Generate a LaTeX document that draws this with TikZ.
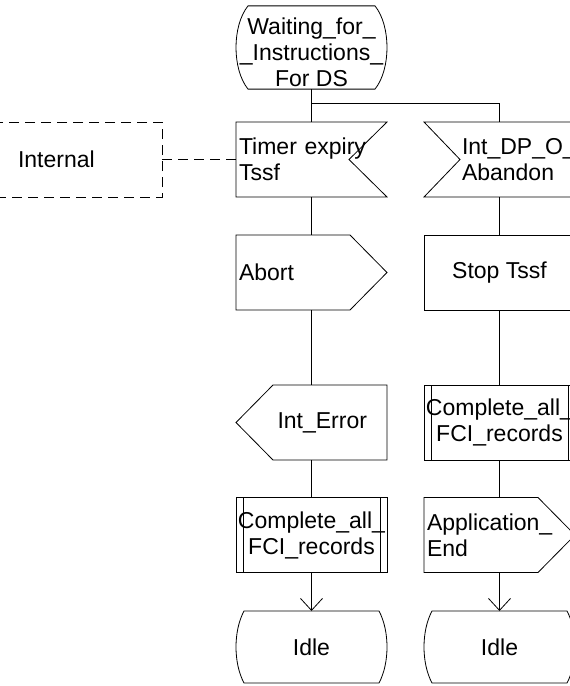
\documentclass[tikz,border=0pt]{standalone}
\usepackage{fontspec}
\setmainfont{Liberation Sans}
\usetikzlibrary{arrows.meta}
\newcommand{\sdlfont}{\fontsize{23}{26}\selectfont}

\begin{document}
\begin{tikzpicture}[
  x=1pt, y=-1pt,
  line width=0.8pt,
  sdlbox/.style={
    rectangle, minimum width=151pt, minimum height=75pt,
    inner sep=2pt, outer sep=0pt,
    font=\sdlfont, align=center
  },
  lefttext/.style={text width=145pt, inner xsep=3pt, align=left},
  sdltask/.style={sdlbox, draw},
  sdlcall/.style={sdlbox, draw, append after command={\pgfextra{
    \draw ([xshift=7pt]\tikzlastnode.north west) -- ([xshift=7pt]\tikzlastnode.south west)
          ([xshift=-7pt]\tikzlastnode.north east) -- ([xshift=-7pt]\tikzlastnode.south east);}}},
  sdlstate/.style={sdlbox, append after command={\pgfextra{
    \draw ([xshift=#1]\tikzlastnode.north west) -- ([xshift=-#1]\tikzlastnode.north east)
      .. controls ([xshift=#1/3, yshift=-20pt]\tikzlastnode.north east)
         and ([xshift=#1/3, yshift=20pt]\tikzlastnode.south east) .. ([xshift=-#1]\tikzlastnode.south east)
      -- ([xshift=#1]\tikzlastnode.south west)
      .. controls ([xshift=-#1/3, yshift=20pt]\tikzlastnode.south west)
         and ([xshift=-#1/3, yshift=-20pt]\tikzlastnode.north west) .. ([xshift=#1]\tikzlastnode.north west) -- cycle;}}},
  sdlinput/.style={sdlbox, append after command={\pgfextra{
    \draw (\tikzlastnode.north west) -- (\tikzlastnode.north east) -- ([xshift=-38pt]\tikzlastnode.east)
      -- (\tikzlastnode.south east) -- (\tikzlastnode.south west) -- cycle;}}},
  sdlinputl/.style={sdlbox, append after command={\pgfextra{
    \draw (\tikzlastnode.north west) -- (\tikzlastnode.north east) -- (\tikzlastnode.south east)
      -- (\tikzlastnode.south west) -- ([xshift=36pt]\tikzlastnode.west) -- cycle;}}},
  sdloutput/.style={sdlbox, append after command={\pgfextra{
    \draw (\tikzlastnode.north west) -- ([xshift=-37pt]\tikzlastnode.north east) -- (\tikzlastnode.east)
      -- ([xshift=-37pt]\tikzlastnode.south east) -- (\tikzlastnode.south west) -- cycle;}}},
  sdloutputl/.style={sdlbox, append after command={\pgfextra{
    \draw (\tikzlastnode.west) -- ([xshift=37pt]\tikzlastnode.north west) -- (\tikzlastnode.north east)
      -- (\tikzlastnode.south east) -- ([xshift=37pt]\tikzlastnode.south west) -- cycle;}}},
  envbox/.style={
    draw, dash pattern=on 10pt off 6pt, minimum height=75pt,
    text width=106pt, inner xsep=38pt, outer sep=0pt,
    font=\sdlfont, align=left
  },
  toidle/.style={-{Straight Barb[length=12pt, width=22pt]}}
]
\useasboundingbox (0,0) rectangle (570,686);
\clip (0,0) rectangle (570,686);

\node[envbox] (env) at (71,159.5) {Internal};

% left branch
\node[sdlstate=12pt] (wait) at (311.5,47.5) {\rule{0pt}{27pt}Waiting\_for\_\\\_Instructions\_\\For DS};
\node[sdlinput, lefttext] (timer) at (311.5,159.5) {Timer expiry\\Tssf};
\node[sdloutput, lefttext] (abort) at (311.5,272.5) {Abort};
\node[sdloutputl, text width=111pt, inner xsep=20pt, align=right] (interr) at (311.5,422.5) {Int\_Error};
\node[sdlcall] (call1) at (311.5,535) {Complete\_all\_\\FCI\_records};
\node[sdlstate=8pt, minimum height=72pt] (idle1) at (311.5,647) {Idle};

% right branch
\node[sdlinputl, text width=75pt, inner xsep=38pt, align=left] (intdp) at (499.5,159.5) {\mbox{Int\_DP\_O\_}\\\mbox{Abandon}};
\node[sdltask] (stop) at (499.5,272.5) {Stop Tssf};
\node[sdlcall] (call2) at (499.5,422.5) {Complete\_all\_\\FCI\_records};
\node[sdloutput, lefttext] (appl) at (499.5,535) {Application\_\\End};
\node[sdlstate=8pt, minimum height=72pt] (idle2) at (499.5,647) {Idle};

\coordinate (split) at (311.5,103);

\draw[dash pattern=on 10pt off 6pt] (env.east) -- (timer.west);

\draw (wait.south) -- (timer.north);
\draw (split) -| (intdp.north);
\draw (timer.south) -- (abort.north);
\draw (abort.south) -- (interr.north);
\draw (interr.south) -- (call1.north);
\draw[toidle] (call1.south) -- (idle1.north);

\draw (intdp.south) -- (stop.north);
\draw (stop.south) -- (call2.north);
\draw (call2.south) -- (appl.north);
\draw[toidle] (appl.south) -- (idle2.north);
\end{tikzpicture}
\end{document}
